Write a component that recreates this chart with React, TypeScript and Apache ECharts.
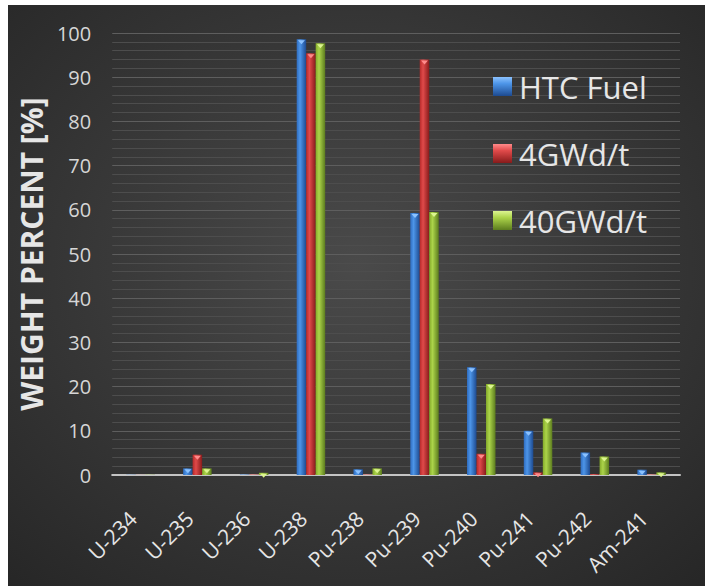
import React, { useEffect, useRef } from "react";
import * as echarts from "echarts";

// Isotope categories along the x-axis
const isotopes = ["U-234", "U-235", "U-236", "U-238", "Pu-238", "Pu-239", "Pu-240", "Pu-241", "Pu-242", "Am-241"];

// Weight percent per isotope for each fuel state
const htcFuel = [0.05, 1.5, 0.1, 98.6, 1.3, 59.3, 24.4, 10.0, 5.1, 1.2];
const burnup4 = [0.02, 4.6, 0.1, 95.4, 0.1, 94.0, 4.8, 0.6, 0.2, 0.1];
const burnup40 = [0.05, 1.5, 0.5, 97.7, 1.5, 59.5, 20.6, 12.8, 4.2, 0.6];

const seriesNames = ["HTC Fuel", "4GWd/t", "40GWd/t"];

const FONT = "'Open Sans', sans-serif";

// Cylinder-like shading for each series: [edge, highlight, shadow, tip]
const palettes = [
  ["#2e6cc0", "#4d95e8", "#1d4a90", "#8cc2ff"],
  ["#b62a2a", "#e04a4a", "#871b1b", "#ff8a8a"],
  ["#84aa2a", "#acd44a", "#5c7c1e", "#dcf590"],
];

function shade(p: string[]) {
  return new echarts.graphic.LinearGradient(0, 0, 1, 0, [
    { offset: 0, color: p[0] },
    { offset: 0.35, color: p[1] },
    { offset: 1, color: p[2] },
  ]);
}

function legendShade(p: string[]) {
  return new echarts.graphic.LinearGradient(0, 0, 0, 1, [
    { offset: 0, color: p[3] },
    { offset: 0.35, color: p[1] },
    { offset: 1, color: p[2] },
  ]);
}

export default function App() {
  const ref = useRef<HTMLDivElement>(null);

  useEffect(() => {
    if (!ref.current) return;
    const chart = echarts.init(ref.current, undefined, { renderer: "svg" });
    const data = [htcFuel, burnup4, burnup40];

    chart.setOption({
      animation: false,
      backgroundColor: {
        type: "radial",
        x: 0.5,
        y: 0.45,
        r: 0.75,
        colorStops: [
          { offset: 0, color: "#4a4a4a" },
          { offset: 1, color: "#262626" },
        ],
      },
      textStyle: { fontFamily: FONT },
      grid: { left: 95, right: 25, top: 28, bottom: 111 },
      legend: {
        orient: "vertical",
        left: 480,
        top: 61,
        itemWidth: 19,
        itemHeight: 19,
        itemGap: 36,
        icon: "rect",
        data: seriesNames.map((name, s) => ({
          name,
          itemStyle: { color: legendShade(palettes[s]), borderWidth: 0 },
        })),
        textStyle: { color: "#e6e6e6", fontSize: 31, fontFamily: FONT, padding: [0, 0, 0, 2] },
      },
      xAxis: {
        type: "category",
        data: isotopes,
        axisLine: { lineStyle: { color: "#c4c4c4", width: 2 } },
        axisTick: { show: false },
        axisLabel: {
          rotate: 45,
          color: "#e6e6e6",
          fontSize: 21,
          margin: 32,
          padding: [0, 11, 0, 0],
          interval: 0,
          fontFamily: FONT,
        },
      },
      yAxis: {
        type: "value",
        min: 0,
        max: 100,
        interval: 10,
        name: "WEIGHT PERCENT [%]",
        nameLocation: "middle",
        nameGap: 60,
        nameTextStyle: { color: "#e6e6e6", fontSize: 30, fontWeight: "bold", fontFamily: FONT },
        axisLine: { show: false },
        axisTick: { show: false },
        axisLabel: { color: "#d6d6d6", fontSize: 20, margin: 21, fontFamily: FONT },
        splitLine: { lineStyle: { color: "#5e5e5e", width: 1 } },
        minorTick: { show: false, splitNumber: 5 },
        minorSplitLine: { show: true, lineStyle: { color: "#4d4d4d", width: 1 } },
      },
      series: data.map((vals, s) => ({
        name: seriesNames[s],
        type: "bar",
        barWidth: 9.5,
        barGap: "0%",
        itemStyle: { color: shade(palettes[s]) },
        data: vals,
        markPoint: {
          symbol: "triangle",
          symbolRotate: 180,
          symbolSize: [7, 4],
          symbolOffset: [0, 3],
          label: { show: false },
          itemStyle: { color: palettes[s][3] },
          data: vals
            .map((v, i) => ({ coord: [i, v], v }))
            .filter((d) => d.v >= 0.3)
            .map((d) => ({ coord: d.coord })),
        },
      })),
    });

    return () => chart.dispose();
  }, []);

  return (
    <div
      ref={ref}
      style={{ position: "absolute", left: 8, top: 5, width: 697, height: 581 }}
    />
  );
}
